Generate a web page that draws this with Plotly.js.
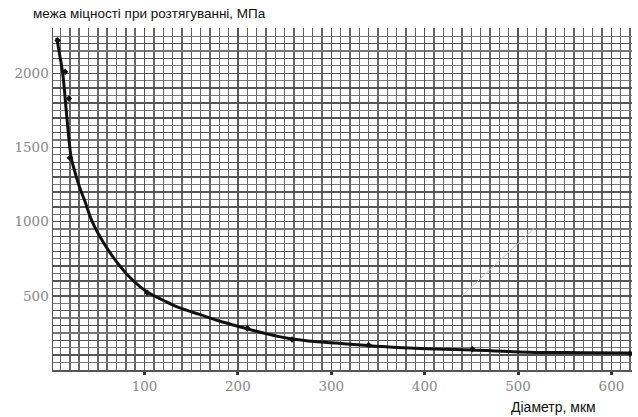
<!DOCTYPE html>
<html>
<head>
<meta charset="utf-8">
<script src="https://cdn.plot.ly/plotly-3.0.1.min.js"></script>
<style>html,body{margin:0;padding:0;background:#fff;}#chart{width:638px;height:417px;}</style>
</head>
<body>
<div id="chart"></div>
<script>
// Curve: diameter (мкм) vs tensile strength (МПа)
const curveX = [6, 9, 12.4, 16, 19, 21.5, 25, 30, 36, 44, 55, 70, 85, 103, 120, 137, 159, 180, 204, 230, 255, 285, 316, 341, 370, 402, 451, 512, 570, 620];
const curveY = [2240, 2130, 2000, 1760, 1560, 1430, 1345, 1240, 1140, 1000, 870, 730, 620, 525, 470, 420, 375, 330, 288, 245, 212, 190, 176, 163, 152, 143, 134, 120, 117, 115];
// Measured points
const pointX = [7, 15, 19, 20, 103, 210, 258, 340, 451, 620];
const pointY = [2220, 2010, 1830, 1430, 520, 282, 205, 168, 140, 112];
// Faint stray stroke in the picture
const strayX = [440, 517];
const strayY = [500, 953];
// Tick labels
const xTickVals = [100, 200, 300, 400, 500, 600];
const xTickText = ['100', '200', '300', '400', '500', '600'];
const yTickVals = [];
const yTickText = [];
for (let v = 100; v <= 2200; v += 100) { yTickVals.push(v); yTickText.push(v % 500 === 0 ? String(v) : ''); }

const serif = 'DejaVu Serif';
const sans = 'Liberation Sans';

const traces = [
  {x: strayX, y: strayY, mode: 'lines', line: {color: '#c8c8c8', width: 1}, hoverinfo: 'skip', showlegend: false},
  {x: curveX, y: curveY, mode: 'lines', line: {color: '#111', width: 3, shape: 'spline', smoothing: 1}, showlegend: false},
  {x: pointX, y: pointY, mode: 'markers', marker: {color: '#111', size: 5, symbol: 'diamond'}, showlegend: false}
];

const layout = {
  width: 638, height: 417,
  margin: {l: 53, r: 6, t: 28, b: 47},
  paper_bgcolor: '#fff', plot_bgcolor: '#fff',
  showlegend: false,
  xaxis: {
    range: [2, 622],
    tickmode: 'array', tickvals: xTickVals, ticktext: xTickText,
    ticks: 'outside', ticklen: 3, tickwidth: 3, tickcolor: '#333',
    tickfont: {family: serif, size: 13.5, color: '#888'},
    showgrid: true, gridcolor: '#555', gridwidth: 1.5,
    minor: {dtick: 10, showgrid: true, gridcolor: '#666', gridwidth: 1.4},
    showline: true, linecolor: '#555', linewidth: 1.5, mirror: false,
    zeroline: false
  },
  yaxis: {
    range: [0, 2305],
    tickmode: 'array', tickvals: yTickVals, ticktext: yTickText,
    ticks: '',
    tickfont: {family: serif, size: 13.5, color: '#888'},
    showgrid: true, gridcolor: '#555', gridwidth: 1.5,
    minor: {dtick: 50, showgrid: true, gridcolor: '#777', gridwidth: 1.2},
    showline: true, linecolor: '#555', linewidth: 1.5,
    zeroline: false
  },
  annotations: [
    {text: 'межа міцності при розтягуванні, МПа', xref: 'paper', yref: 'paper', x: -0.038, y: 1.015, xanchor: 'left', yanchor: 'bottom', showarrow: false, font: {family: sans, size: 13.5, color: '#111'}},
    {text: 'Діаметр, мкм', xref: 'paper', yref: 'paper', x: 0.942, y: -0.078, xanchor: 'right', yanchor: 'top', showarrow: false, font: {family: sans, size: 14, color: '#111'}}
  ]
};

Plotly.newPlot('chart', traces, layout, {displayModeBar: false, staticPlot: true});
</script>
</body>
</html>
